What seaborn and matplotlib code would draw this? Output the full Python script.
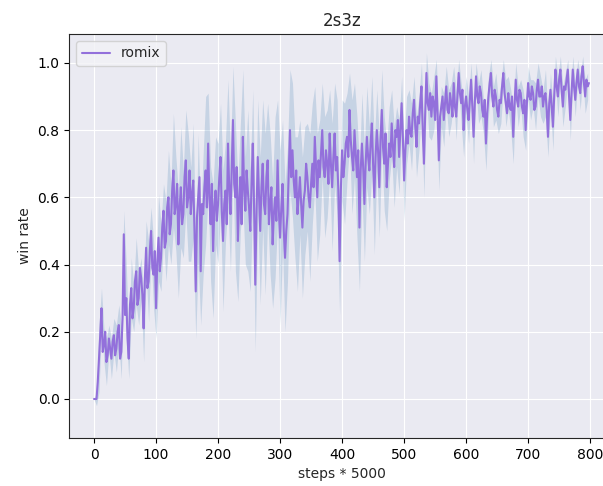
import matplotlib
matplotlib.use("Agg")
import matplotlib.pyplot as plt
import numpy as np
import seaborn as sns

# 训练步数，单位 steps * 5000
steps = np.arange(0, 800, 2)        # 胜率曲线的记录点
band_steps = np.arange(0, 800, 4)   # 阴影带的记录点

# romix 平均胜率
win_rate = [
    0.0, 0.0, 0.0, 0.05, 0.12, 0.19, 0.27, 0.14, 0.16, 0.2, 0.11, 0.13, 0.18, 0.15, 0.12, 0.17, 0.19, 0.13, 0.15, 0.2,
    0.22, 0.12, 0.14, 0.24, 0.49, 0.25, 0.30, 0.18, 0.12, 0.28, 0.33, 0.24, 0.27, 0.35, 0.38, 0.28, 0.30, 0.39, 0.36, 0.31,
    0.21, 0.36, 0.45, 0.33, 0.35, 0.44, 0.50, 0.39, 0.37, 0.44, 0.27, 0.41, 0.48, 0.38, 0.42, 0.51, 0.56, 0.45, 0.47, 0.57,
    0.60, 0.49, 0.52, 0.62, 0.68, 0.55, 0.58, 0.64, 0.46, 0.57, 0.63, 0.52, 0.55, 0.66, 0.71, 0.57, 0.60, 0.68, 0.55, 0.61,
    0.65, 0.50, 0.32, 0.54, 0.60, 0.66, 0.38, 0.58, 0.55, 0.63, 0.68, 0.57, 0.76, 0.60, 0.52, 0.64, 0.44, 0.57, 0.62, 0.53,
    0.58, 0.66, 0.72, 0.56, 0.47, 0.58, 0.62, 0.52, 0.76, 0.63, 0.55, 0.68, 0.83, 0.64, 0.60, 0.69, 0.47, 0.59, 0.66, 0.52,
    0.78, 0.63, 0.56, 0.68, 0.62, 0.57, 0.50, 0.64, 0.76, 0.58, 0.34, 0.55, 0.72, 0.61, 0.50, 0.63, 0.70, 0.58, 0.55, 0.66,
    0.71, 0.52, 0.58, 0.63, 0.46, 0.55, 0.60, 0.53, 0.71, 0.56, 0.48, 0.57, 0.64, 0.50, 0.42, 0.50, 0.55, 0.68, 0.80, 0.66,
    0.74, 0.65, 0.60, 0.68, 0.55, 0.60, 0.66, 0.58, 0.51, 0.59, 0.62, 0.70, 0.66, 0.60, 0.57, 0.64, 0.70, 0.63, 0.78, 0.69,
    0.60, 0.71, 0.66, 0.73, 0.80, 0.69, 0.66, 0.74, 0.70, 0.64, 0.79, 0.70, 0.63, 0.72, 0.79, 0.68, 0.72, 0.62, 0.41, 0.62,
    0.74, 0.66, 0.70, 0.76, 0.78, 0.72, 0.86, 0.77, 0.72, 0.68, 0.80, 0.73, 0.66, 0.74, 0.51, 0.68, 0.76, 0.69, 0.58, 0.70,
    0.78, 0.72, 0.68, 0.76, 0.82, 0.70, 0.60, 0.72, 0.80, 0.74, 0.63, 0.77, 0.86, 0.75, 0.70, 0.79, 0.63, 0.70, 0.76, 0.72,
    0.82, 0.75, 0.69, 0.80, 0.78, 0.83, 0.72, 0.80, 0.88, 0.78, 0.65, 0.74, 0.80, 0.76, 0.84, 0.79, 0.78, 0.85, 0.89, 0.81,
    0.75, 0.84, 0.82, 0.88, 0.93, 0.80, 0.70, 0.85, 0.97, 0.88, 0.86, 0.91, 0.84, 0.90, 0.88, 0.83, 0.96, 0.85, 0.71, 0.84,
    0.87, 0.90, 0.83, 0.88, 0.93, 0.86, 0.85, 0.91, 0.88, 0.84, 0.94, 0.87, 0.84, 0.90, 0.97, 0.91, 0.88, 0.92, 0.80, 0.87,
    0.90, 0.86, 0.83, 0.89, 0.95, 0.87, 0.78, 0.88, 0.96, 0.90, 0.88, 0.93, 0.91, 0.86, 0.84, 0.89, 0.76, 0.85, 0.90, 0.94,
    0.97, 0.90, 0.87, 0.92, 0.90, 0.86, 0.84, 0.89, 0.88, 0.93, 0.97, 0.91, 0.88, 0.85, 0.91, 0.87, 0.86, 0.90, 0.78, 0.87,
    0.95, 0.89, 0.87, 0.92, 0.91, 0.87, 0.85, 0.89, 0.80, 0.88, 0.94, 0.90, 0.89, 0.93, 0.91, 0.86, 0.87, 0.92, 0.95, 0.90,
    0.90, 0.93, 0.87, 0.90, 0.91, 0.86, 0.78, 0.88, 0.92, 0.87, 0.81, 0.90, 0.98, 0.93, 0.90, 0.95, 0.98, 0.92, 0.87, 0.93,
    0.92, 0.95, 0.98, 0.90, 0.83, 0.91, 0.98, 0.93, 0.89, 0.94, 0.98, 0.93, 0.91, 0.96, 0.99, 0.94, 0.90, 0.95, 0.93, 0.94,
]

# 阴影带中心与半宽（估计值）
band_center = [
    0.0, 0.0, 0.12, 0.27, 0.16, 0.11, 0.18, 0.12, 0.19, 0.15,
    0.22, 0.14, 0.49, 0.30, 0.12, 0.33, 0.27, 0.38, 0.30, 0.36,
    0.21, 0.45, 0.35, 0.50, 0.37, 0.27, 0.48, 0.42, 0.56, 0.47,
    0.60, 0.52, 0.68, 0.58, 0.46, 0.63, 0.55, 0.71, 0.60, 0.55,
    0.65, 0.32, 0.60, 0.38, 0.55, 0.68, 0.76, 0.52, 0.44, 0.62,
    0.58, 0.72, 0.47, 0.62, 0.76, 0.55, 0.83, 0.60, 0.47, 0.66,
    0.78, 0.56, 0.62, 0.50, 0.76, 0.34, 0.72, 0.50, 0.70, 0.55,
    0.71, 0.58, 0.46, 0.60, 0.71, 0.48, 0.64, 0.42, 0.55, 0.80,
    0.74, 0.60, 0.55, 0.66, 0.51, 0.62, 0.66, 0.57, 0.70, 0.78,
    0.60, 0.66, 0.80, 0.66, 0.70, 0.79, 0.63, 0.79, 0.72, 0.41,
    0.74, 0.70, 0.78, 0.86, 0.72, 0.80, 0.66, 0.51, 0.76, 0.58,
    0.78, 0.68, 0.82, 0.60, 0.80, 0.63, 0.86, 0.70, 0.63, 0.76,
    0.82, 0.69, 0.78, 0.72, 0.88, 0.65, 0.80, 0.84, 0.78, 0.89,
    0.75, 0.82, 0.93, 0.70, 0.97, 0.86, 0.84, 0.88, 0.96, 0.71,
    0.87, 0.83, 0.93, 0.85, 0.88, 0.94, 0.84, 0.97, 0.88, 0.80,
    0.90, 0.83, 0.95, 0.78, 0.96, 0.88, 0.91, 0.84, 0.76, 0.90,
    0.97, 0.87, 0.90, 0.84, 0.88, 0.97, 0.88, 0.91, 0.86, 0.78,
    0.95, 0.87, 0.91, 0.85, 0.80, 0.94, 0.89, 0.91, 0.87, 0.95,
    0.90, 0.87, 0.91, 0.78, 0.92, 0.81, 0.98, 0.90, 0.98, 0.87,
    0.92, 0.98, 0.83, 0.98, 0.89, 0.98, 0.91, 0.99, 0.90, 0.93,
]
spread = [
    0.0, 0.02, 0.10, 0.06, 0.05, 0.07, 0.04, 0.06, 0.05, 0.07,
    0.06, 0.08, 0.07, 0.10, 0.06, 0.09, 0.07, 0.10, 0.08, 0.06,
    0.10, 0.08, 0.12, 0.07, 0.10, 0.09, 0.13, 0.10, 0.08, 0.12,
    0.14, 0.12, 0.17, 0.14, 0.16, 0.18, 0.13, 0.15, 0.19, 0.14,
    0.17, 0.14, 0.19, 0.16, 0.18, 0.22, 0.15, 0.17, 0.20, 0.16,
    0.18, 0.16, 0.21, 0.15, 0.19, 0.17, 0.16, 0.22, 0.18, 0.16,
    0.20, 0.16, 0.24, 0.18, 0.16, 0.20, 0.17, 0.22, 0.19, 0.24,
    0.17, 0.21, 0.19, 0.24, 0.18, 0.26, 0.19, 0.22, 0.20, 0.18,
    0.20, 0.18, 0.23, 0.17, 0.21, 0.19, 0.16, 0.22, 0.18, 0.15,
    0.19, 0.17, 0.14, 0.18, 0.16, 0.13, 0.19, 0.15, 0.17, 0.16,
    0.15, 0.18, 0.13, 0.11, 0.17, 0.14, 0.18, 0.19, 0.15, 0.17,
    0.15, 0.13, 0.14, 0.17, 0.12, 0.15, 0.12, 0.14, 0.13, 0.11,
    0.10, 0.12, 0.09, 0.11, 0.08, 0.12, 0.10, 0.08, 0.10, 0.07,
    0.09, 0.08, 0.07, 0.10, 0.06, 0.08, 0.07, 0.08, 0.05, 0.09,
    0.06, 0.08, 0.06, 0.07, 0.06, 0.05, 0.07, 0.04, 0.06, 0.08,
    0.06, 0.07, 0.05, 0.08, 0.04, 0.06, 0.07, 0.05, 0.08, 0.06,
    0.04, 0.06, 0.07, 0.05, 0.06, 0.04, 0.07, 0.05, 0.06, 0.08,
    0.05, 0.06, 0.04, 0.07, 0.06, 0.05, 0.06, 0.04, 0.07, 0.05,
    0.06, 0.05, 0.07, 0.06, 0.05, 0.07, 0.04, 0.06, 0.04, 0.06,
    0.05, 0.03, 0.06, 0.04, 0.05, 0.03, 0.05, 0.03, 0.05, 0.04,
]

sns.set_style("darkgrid", {
    "axes.edgecolor": "0.15",
    "xtick.bottom": True,
    "ytick.left": True,
    "xtick.color": "black",
    "ytick.color": "black",
})

fig = plt.figure(figsize=(6.03, 4.86), dpi=100)
ax = fig.add_axes([0.1148, 0.0988, 0.905, 0.8313])

center = np.array(band_center)
half = np.array(spread)
ax.fill_between(band_steps, center - half, center + half,
                color="steelblue", alpha=0.22, linewidth=0)
sns.lineplot(x=steps, y=win_rate, color="mediumpurple", label="romix", ax=ax)

ax.set_xlim(-40, 840)
ax.set_ylim(-0.116, 1.086)
ax.set_xticks([0, 100, 200, 300, 400, 500, 600, 700, 800])
ax.set_title("2s3z")
ax.set_xlabel("steps * 5000")
ax.set_ylabel("win rate")
ax.legend(loc="upper left", facecolor="#f2f2f6")

plt.savefig("out.png", dpi=100)
